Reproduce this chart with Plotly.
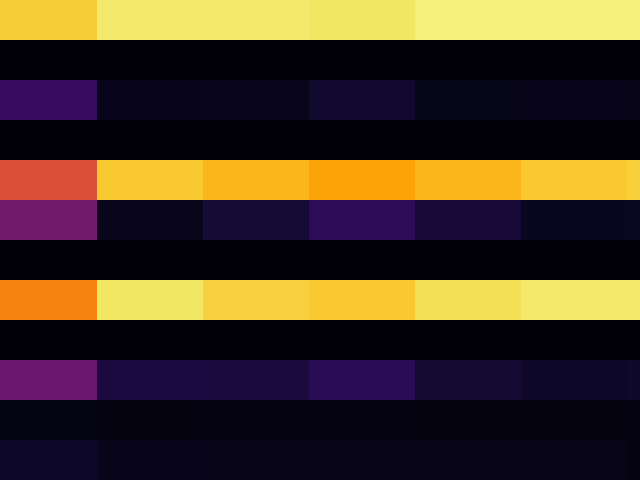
import plotly.graph_objects as go

columns = [0, 1, 2, 3, 4, 5, 6]
rows = list(range(12))

row_0 = [0.88, 0.943, 0.943, 0.935, 0.958, 0.958, 0.958]
row_1 = [0.006, 0.004, 0.004, 0.004, 0.003, 0.003, 0.003]
row_2 = [0.175, 0.045, 0.048, 0.082, 0.04, 0.045, 0.04]
row_3 = [0.012, 0.006, 0.006, 0.006, 0.006, 0.006, 0.006]
row_4 = [0.60, 0.872, 0.835, 0.797, 0.835, 0.87, 0.885]
row_5 = [0.318, 0.048, 0.095, 0.155, 0.098, 0.052, 0.057]
row_6 = [0.006, 0.006, 0.006, 0.006, 0.006, 0.006, 0.006]
row_7 = [0.73, 0.935, 0.89, 0.87, 0.92, 0.943, 0.943]
row_8 = [0.006, 0.005, 0.005, 0.005, 0.005, 0.005, 0.005]
row_9 = [0.30, 0.108, 0.105, 0.145, 0.085, 0.07, 0.075]
row_10 = [0.03, 0.022, 0.025, 0.025, 0.02, 0.02, 0.028]
row_11 = [0.07, 0.045, 0.038, 0.038, 0.036, 0.036, 0.025]

z = [row_0, row_1, row_2, row_3, row_4, row_5, row_6, row_7, row_8, row_9, row_10, row_11]

inferno_hex = [
    "#000004", "#0C0826", "#240C4F", "#420A68", "#5D126E", "#781C6D",
    "#932667", "#AE305C", "#C73E4C", "#DC5039", "#ED6925", "#F78410",
    "#FCA40A", "#FAC62D", "#F2E661", "#FCFFA4",
]
colorscale = [[i / (len(inferno_hex) - 1), c] for i, c in enumerate(inferno_hex)]

fig = go.Figure(
    go.Heatmap(
        z=z,
        x=columns,
        y=rows,
        colorscale=colorscale,
        zmin=0,
        zmax=1,
        showscale=False,
        xgap=0,
        ygap=0,
    )
)

fig.update_layout(
    width=640,
    height=480,
    margin=dict(l=0, r=0, t=0, b=0, pad=0),
    paper_bgcolor="black",
    plot_bgcolor="black",
    xaxis=dict(visible=False, range=[-0.415, 5.623], showgrid=False, zeroline=False),
    yaxis=dict(visible=False, range=[11.5, -0.5], showgrid=False, zeroline=False),
)

fig.write_html("out.html")
